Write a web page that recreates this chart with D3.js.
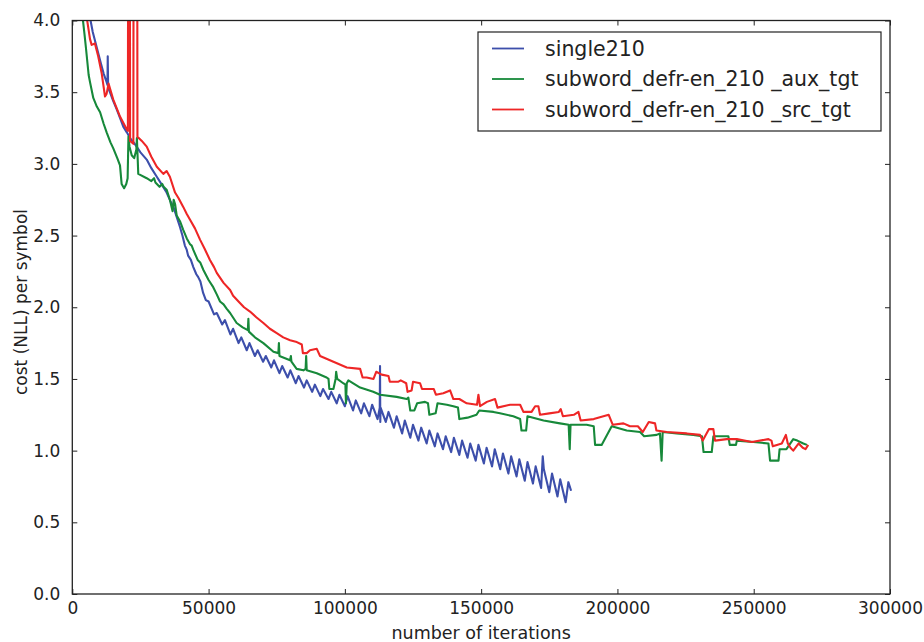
<!DOCTYPE html>
<html>
<head>
<meta charset="utf-8">
<script src="https://cdnjs.cloudflare.com/ajax/libs/d3/7.8.5/d3.min.js"></script>
<style>
  body { margin: 0; background: #fff; }
  svg { display: block; font-family: "DejaVu Sans", sans-serif; }
</style>
</head>
<body>
<script>
// tick values for both axes
var xTicks = [0, 50000, 100000, 150000, 200000, 250000, 300000];
var yTicks = [0, 0.5, 1.0, 1.5, 2.0, 2.5, 3.0, 3.5, 4.0];

var seriesNames = ["single210", "subword_defr-en_210 _aux_tgt", "subword_defr-en_210 _src_tgt"];

// [iteration, cost]
var single210 = [
  [6500, 4.02], [7500, 3.92], [9000, 3.81], [10500, 3.70], [11500, 3.63], [12600, 3.57], [12900, 3.55],
  [13000, 3.75], [13150, 3.53], [13800, 3.50], [15000, 3.44], [16300, 3.38], [17500, 3.32], [18700, 3.26],
  [20000, 3.22], [21200, 3.18], [22500, 3.15], [23600, 3.12], [25000, 3.08], [27300, 3.03], [29000, 2.97],
  [31000, 2.91], [33000, 2.85], [34600, 2.80], [36000, 2.74], [37100, 2.70], [38300, 2.63], [39500, 2.56],
  [40400, 2.50], [41300, 2.43], [42000, 2.40], [42500, 2.36], [43500, 2.33], [44400, 2.28], [45500, 2.23],
  [46200, 2.21], [47000, 2.18], [48000, 2.10], [49000, 2.05], [50000, 2.04],
  [52000, 1.95], [53000, 1.96], [55000, 1.88], [56000, 1.91], [58000, 1.81], [59000, 1.85], [61000, 1.75],
  [62000, 1.79], [64000, 1.70], [65000, 1.75], [67000, 1.66], [68000, 1.70], [70000, 1.62], [71000, 1.66],
  [73000, 1.58], [74000, 1.63], [76000, 1.54], [77000, 1.59], [79000, 1.51], [80000, 1.56], [82000, 1.47],
  [83000, 1.52], [85000, 1.44], [86000, 1.49], [88000, 1.41], [89000, 1.46], [91000, 1.38], [92000, 1.43],
  [94000, 1.36], [95000, 1.41], [97000, 1.33], [98000, 1.39], [100000, 1.31], [101000, 1.38], [103000, 1.28],
  [104000, 1.35], [106000, 1.26], [107000, 1.33], [109000, 1.24], [110000, 1.32], [112000, 1.22],
  [112800, 1.30], [112900, 1.59], [113000, 1.20], [113100, 1.30], [115000, 1.20], [116000, 1.27],
  [118000, 1.16], [119000, 1.24], [121000, 1.12], [122000, 1.21], [124000, 1.09], [125000, 1.18],
  [127000, 1.07], [128000, 1.16], [130000, 1.05], [131000, 1.14], [133000, 1.03], [134000, 1.12],
  [136000, 1.01], [137000, 1.10], [139000, 0.99], [140000, 1.09], [142000, 0.97], [143000, 1.07],
  [145000, 0.95], [146000, 1.05], [148000, 0.93], [149000, 1.04], [151000, 0.91], [152000, 1.02],
  [154000, 0.89], [155000, 1.01], [157000, 0.87], [158000, 0.98], [160000, 0.84], [161000, 0.96],
  [163000, 0.82], [164000, 0.94], [166000, 0.79], [167000, 0.92], [169000, 0.77], [170000, 0.89],
  [172000, 0.74], [172600, 0.96], [173000, 0.87], [175000, 0.71], [176000, 0.84], [178000, 0.68],
  [179000, 0.80], [181000, 0.64], [182000, 0.78], [183000, 0.72]
];

var auxTgt = [
  [3800, 4.02], [4500, 3.90], [5000, 3.81], [6000, 3.62], [6500, 3.57], [7700, 3.46], [9000, 3.40],
  [10200, 3.36], [11500, 3.28], [12600, 3.22], [14000, 3.15], [15000, 3.11], [16500, 3.04], [17500, 2.99],
  [18100, 2.86], [19000, 2.83], [19800, 2.86], [20300, 2.90], [20600, 3.19], [21000, 3.12], [21800, 3.06],
  [22700, 3.04], [23500, 3.10], [23700, 3.18], [24200, 2.93], [27300, 2.90], [29000, 2.88], [30000, 2.90],
  [30500, 2.87], [32000, 2.84], [33000, 2.86], [33500, 2.84], [34600, 2.82], [35800, 2.75], [36800, 2.67],
  [37200, 2.75], [37700, 2.72], [38300, 2.64], [39500, 2.60], [40700, 2.54], [42000, 2.48], [43200, 2.44],
  [43800, 2.43], [44400, 2.40], [46000, 2.33], [47000, 2.31], [48100, 2.26], [50000, 2.19], [51700, 2.14],
  [53000, 2.09], [54200, 2.04], [55500, 2.02], [56600, 1.99],
  [57900, 1.96], [60300, 1.89], [62500, 1.86], [64400, 1.84], [64600, 1.92], [64800, 1.83], [67000, 1.79],
  [70100, 1.75], [73800, 1.69], [75600, 1.68], [75800, 1.75], [76000, 1.66], [79900, 1.63], [80200, 1.66],
  [80400, 1.62], [82300, 1.57], [84800, 1.56], [85600, 1.57], [85800, 1.66], [86000, 1.56], [89700, 1.54],
  [93300, 1.51], [94000, 1.50], [94300, 1.43], [95800, 1.43], [96600, 1.50], [96800, 1.55], [97200, 1.50],
  [99400, 1.47], [100200, 1.46], [100400, 1.33], [100700, 1.47], [101300, 1.49], [105600, 1.44],
  [110400, 1.41], [112900, 1.39], [119000, 1.375], [122700, 1.36], [123300, 1.37], [124000, 1.28],
  [125500, 1.28], [126500, 1.33], [129400, 1.34], [130500, 1.33], [131000, 1.25], [133300, 1.26],
  [134000, 1.33], [137400, 1.32], [139800, 1.31], [141500, 1.30], [142000, 1.22], [145000, 1.23],
  [148300, 1.25], [149300, 1.28], [154500, 1.27], [156900, 1.26], [161800, 1.24], [164300, 1.22],
  [164800, 1.14], [166500, 1.14], [167000, 1.24], [172900, 1.21], [178900, 1.19], [182100, 1.18],
  [182500, 1.01], [182800, 1.18], [188700, 1.18], [191300, 1.17], [191800, 1.04], [194200, 1.04],
  [197900, 1.17], [203400, 1.14], [208300, 1.13], [209800, 1.10], [214400, 1.11], [215600, 1.12],
  [216200, 0.93], [216600, 1.13], [221800, 1.12], [227900, 1.11], [231000, 1.10], [231600, 0.99],
  [234600, 0.99], [235200, 1.10], [240700, 1.10], [241200, 1.04], [243500, 1.04], [243800, 1.07],
  [249900, 1.06], [255400, 1.05], [256000, 0.93], [259100, 0.93], [259500, 1.01], [262000, 1.01],
  [264500, 1.08], [266000, 1.07], [268200, 1.05], [269500, 1.04]
];

var srcTgt = [
  [5300, 4.02], [6500, 3.87], [7100, 3.83], [8300, 3.84], [9500, 3.75], [10800, 3.63], [12000, 3.47],
  [12600, 3.49], [13300, 3.56], [15000, 3.45], [17500, 3.33], [20000, 3.24], [20400, 3.23], [20500, 5.0],
  [21100, 5.0], [21200, 3.16], [22400, 3.14], [22500, 5.0], [23800, 5.0], [23900, 3.19], [25500, 3.16],
  [27300, 3.12], [29000, 3.05], [31000, 2.98], [33400, 2.93], [34600, 2.95], [35800, 2.91], [37700, 2.80],
  [39000, 2.76], [40700, 2.70], [42000, 2.65], [43200, 2.61], [45000, 2.55], [46900, 2.47], [48500, 2.41],
  [50500, 2.33], [52000, 2.28], [53000, 2.24], [55500, 2.17], [57900, 2.12], [59000, 2.08], [61500, 2.03],
  [63000, 2.00], [65200, 1.97], [67500, 1.93], [70100, 1.89], [72500, 1.85], [75000, 1.82], [77400, 1.79],
  [79900, 1.77], [82000, 1.76], [84200, 1.74], [84600, 1.68],
  [86000, 1.68], [87200, 1.70], [89700, 1.71], [90900, 1.66], [95800, 1.62], [100700, 1.58], [105600, 1.57],
  [106500, 1.51], [108000, 1.51], [110500, 1.50], [111500, 1.55], [113500, 1.53], [116000, 1.52],
  [116500, 1.48], [119500, 1.48], [120500, 1.49], [122500, 1.47], [123000, 1.41], [124500, 1.42],
  [125000, 1.48], [127600, 1.47], [128300, 1.43], [132600, 1.43], [133400, 1.39], [136100, 1.40],
  [138600, 1.42], [139800, 1.36], [142000, 1.36], [144700, 1.33], [148500, 1.32], [149000, 1.39],
  [149600, 1.31], [152100, 1.34], [155100, 1.36], [156000, 1.30], [160600, 1.32], [164300, 1.32],
  [165500, 1.27], [168500, 1.27], [169800, 1.31], [171000, 1.31], [171600, 1.25], [175000, 1.26],
  [178500, 1.27], [179200, 1.29], [180000, 1.24], [184000, 1.25], [185700, 1.27], [186500, 1.21],
  [191300, 1.22], [196800, 1.25], [198300, 1.18], [202200, 1.19], [204600, 1.17], [207500, 1.17],
  [209300, 1.13], [211500, 1.20], [213800, 1.19], [214300, 1.14], [218100, 1.13], [225400, 1.12],
  [230300, 1.11], [231300, 1.07], [233600, 1.15], [235200, 1.15], [235800, 1.07], [240100, 1.08],
  [243800, 1.08], [249300, 1.06], [255400, 1.08], [256500, 1.07], [257000, 1.03], [260300, 1.05],
  [261800, 1.11], [262500, 1.05], [263500, 1.02], [264500, 1.00], [266500, 1.05], [268000, 1.02],
  [269000, 1.01], [270000, 1.04]
];

var seriesColors = ["#3d4fab", "#17893a", "#ee2626"];

window.onload = function() {

  // plot box in page pixels
  var margin = { top: 20.5, right: 34, bottom: 48, left: 72.3 }
  var W = 924, H = 642
  var w = W - margin.left - margin.right
  var h = H - margin.top - margin.bottom

  var svg = d3.select("body").append("svg")
              .attr("width", W)
              .attr("height", H)

  var g = svg.append("g")
             .attr("transform", "translate(" + margin.left + "," + margin.top + ")")

  var x = d3.scaleLinear().domain([0, 300000]).range([0, w])
  var y = d3.scaleLinear().domain([0, 4.0]).range([h, 0])

  g.append("clipPath")
   .attr("id", "plotclip")
   .append("rect")
   .attr("width", w)
   .attr("height", h)

  var line = d3.line()
               .x(function(d) { return x(d[0]) })
               .y(function(d) { return y(d[1]) })

  var allSeries = [single210, auxTgt, srcTgt]

  g.append("g")
   .attr("clip-path", "url(#plotclip)")
   .selectAll("path")
   .data(allSeries)
   .enter()
   .append("path")
   .attr("d", line)
   .attr("fill", "none")
   .attr("stroke", function(d, i) { return seriesColors[i] })
   .attr("stroke-width", 2.1)
   .attr("stroke-linejoin", "round")

  // ticks point inward on all four sides
  var tickLen = 5
  var axisColor = "#222"

  g.append("g")
   .attr("transform", "translate(0," + h + ")")
   .call(d3.axisBottom(x).tickValues(xTicks).tickSize(-tickLen).tickPadding(8).tickFormat(d3.format("d")))
  g.append("g")
   .call(d3.axisTop(x).tickValues(xTicks).tickSize(-tickLen).tickFormat(""))
  g.append("g")
   .call(d3.axisLeft(y).tickValues(yTicks).tickSize(-tickLen).tickPadding(12).tickFormat(d3.format(".1f")))
  g.append("g")
   .attr("transform", "translate(" + w + ",0)")
   .call(d3.axisRight(y).tickValues(yTicks).tickSize(-tickLen).tickFormat(""))

  g.selectAll(".domain").remove()
  g.selectAll(".tick line").attr("stroke", axisColor).attr("stroke-width", 1)
  g.selectAll(".tick text")
   .attr("fill", "#222")
   .style("font-size", "17px")
   .style("font-family", "'DejaVu Sans', sans-serif")

  // frame
  g.append("rect")
   .attr("width", w)
   .attr("height", h)
   .attr("fill", "none")
   .attr("stroke", axisColor)
   .attr("stroke-width", 1.3)

  svg.append("text")
     .attr("x", margin.left + w / 2)
     .attr("y", 639)
     .attr("text-anchor", "middle")
     .attr("fill", "#222")
     .style("font-size", "17.5px")
     .text("number of iterations")

  svg.append("text")
     .attr("transform", "translate(27," + 302 + ") rotate(-90)")
     .attr("text-anchor", "middle")
     .attr("fill", "#222")
     .style("font-size", "17px")
     .text("cost (NLL) per symbol")

  // legend
  var legend = svg.append("g").attr("transform", "translate(478,32)")
  legend.append("rect")
        .attr("width", 403)
        .attr("height", 99)
        .attr("fill", "#fff")
        .attr("stroke", "#222")
        .attr("stroke-width", 1.2)

  var rows = legend.selectAll(".row")
                   .data(seriesNames)
                   .enter().append("g")
                   .attr("class", "row")
                   .attr("transform", function(d, i) { return "translate(0," + (16.5 + i * 30.5) + ")" })

  rows.append("line")
      .attr("x1", 14).attr("x2", 46)
      .attr("stroke", function(d, i) { return seriesColors[i] })
      .attr("stroke-width", 1.8)

  rows.append("text")
      .attr("x", 67)
      .attr("y", 7)
      .attr("fill", "#222")
      .style("font-size", "20.5px")
      .text(function(d) { return d })
};
</script>
</body>
</html>
